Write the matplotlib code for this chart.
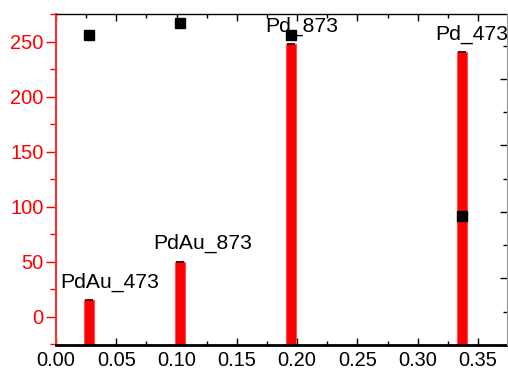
import matplotlib
matplotlib.use("Agg")
import matplotlib.pyplot as plt
from matplotlib.ticker import MultipleLocator

plt.rcParams['font.family'] = ['Liberation Sans', 'DejaVu Sans']

# data
samples = ["PdAu_473", "PdAu_873", "Pd_873", "Pd_473"]
x_pos = [0.027, 0.103, 0.195, 0.337]
bar_values = [15.2, 50.0, 248.0, 240.3]
square_values = [93.1, 96.9, 93.1, 38.8]
label_x = [0.0033, 0.0804, 0.1733, 0.3143]
label_y = [26.1, 61.5, 258.8, 251.5]

fig = plt.figure(figsize=(5.08, 3.69), dpi=100)
ax = fig.add_axes([56/508, 24/369, 451/508, 331/369])

ylo, yhi = -25.7, 275.2
bw = 0.0083
ax.bar(x_pos, [v - ylo for v in bar_values], bottom=ylo, width=bw,
       color='#ff0000', edgecolor='#ff5050', linewidth=0.8, zorder=2)
ax.hlines(bar_values, [x - bw*0.4 for x in x_pos], [x + bw*0.4 for x in x_pos],
          colors='#400000', linewidth=1.3, zorder=3)

for s, lx, ly in zip(samples, label_x, label_y):
    ax.text(lx, ly, s, ha='left', va='baseline', fontsize=15.2, color='black', zorder=5)

ax.set_xlim(0, 0.374)
ax.set_ylim(ylo, yhi)
ax.xaxis.set_major_locator(MultipleLocator(0.05))
ax.xaxis.set_minor_locator(MultipleLocator(0.025))
ax.yaxis.set_major_locator(MultipleLocator(50))
ax.yaxis.set_minor_locator(MultipleLocator(25))
ax.xaxis.set_major_formatter(matplotlib.ticker.FormatStrFormatter('%.2f'))

ax.tick_params(axis='x', which='major', direction='in', length=5, width=1,
               top=True, labelsize=14.4, pad=4, colors='black')
ax.tick_params(axis='x', which='minor', direction='in', length=3, width=1, top=True)
ax.tick_params(axis='y', which='major', direction='out', length=7, width=1,
               colors='#ff0000', labelsize=14.4, pad=2)
ax.tick_params(axis='y', which='minor', direction='out', length=4, width=1,
               colors='#ff0000')
ax.spines['left'].set_color('#ff3030')
ax.spines['left'].set_linewidth(1.5)
ax.spines['bottom'].set_linewidth(2)
ax.spines['top'].set_linewidth(1)
ax.spines['right'].set_visible(False)

ax2 = ax.twinx()
ax2.plot(x_pos, square_values, linestyle='none', marker='s', markersize=7.5,
         color='black', zorder=6)
ax2.set_ylim(0, 99.5)
ax2.yaxis.set_major_locator(MultipleLocator(20))
ax2.yaxis.set_minor_locator(MultipleLocator(10))
ax2.tick_params(axis='y', which='major', direction='in', length=5, width=1,
                labelright=False)
ax2.tick_params(axis='y', which='minor', direction='in', length=3, width=1)
for sp in ['left', 'top', 'bottom']:
    ax2.spines[sp].set_visible(False)
ax2.spines['right'].set_color('#999999')

fig.savefig('out.png', dpi=100)
